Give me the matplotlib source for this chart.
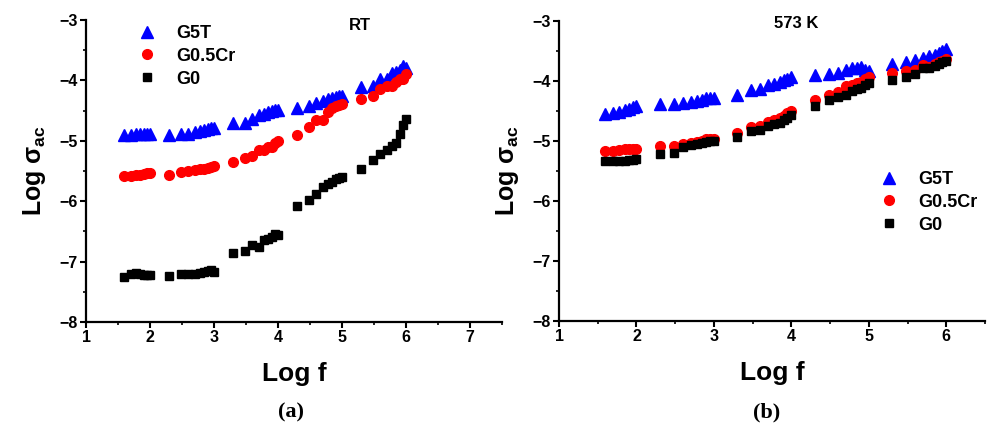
import matplotlib
matplotlib.use("Agg")
import matplotlib.pyplot as plt
from matplotlib.ticker import MultipleLocator

plt.rcParams['font.family'] = ['Liberation Sans', 'DejaVu Sans']
plt.rcParams['font.weight'] = 'bold'
plt.rcParams['mathtext.fontset'] = 'custom'
plt.rcParams['mathtext.rm'] = 'Liberation Sans:bold'
plt.rcParams['mathtext.it'] = 'Liberation Sans:bold'
plt.rcParams['mathtext.bf'] = 'Liberation Sans:bold'

# Log f values (same sampling for all series)
log_f = [1.60, 1.70, 1.78, 1.85, 1.90, 1.95, 2.00,
         2.30, 2.48, 2.60, 2.70, 2.78, 2.85, 2.90, 2.95, 3.00,
         3.30, 3.48, 3.60, 3.70, 3.78, 3.85, 3.90, 3.95, 4.00,
         4.30, 4.48, 4.60, 4.70, 4.78, 4.85, 4.90, 4.95, 5.00,
         5.30, 5.48, 5.60, 5.70, 5.78, 5.85, 5.90, 5.95, 6.00]

# (a) RT
rt_g5t = [-4.90, -4.90, -4.89, -4.89, -4.89, -4.88, -4.88,
          -4.90, -4.89, -4.88, -4.86, -4.84, -4.82, -4.80, -4.79, -4.78,
          -4.71, -4.70, -4.64, -4.58, -4.55, -4.52, -4.50, -4.49, -4.49,
          -4.46, -4.42, -4.37, -4.34, -4.31, -4.29, -4.27, -4.26, -4.26,
          -4.11, -4.09, -3.98, -3.98, -3.88, -3.86, -3.83, -3.76, -3.79]
rt_g05cr = [-5.58, -5.58, -5.57, -5.56, -5.55, -5.54, -5.54,
            -5.57, -5.51, -5.50, -5.49, -5.47, -5.46, -5.45, -5.43, -5.41,
            -5.35, -5.28, -5.25, -5.15, -5.16, -5.10, -5.11, -5.04, -5.00,
            -4.91, -4.77, -4.66, -4.65, -4.53, -4.45, -4.42, -4.41, -4.39,
            -4.31, -4.25, -4.15, -4.10, -4.09, -4.02, -3.98, -3.97, -3.89]
rt_g0 = [-7.25, -7.21, -7.19, -7.20, -7.22, -7.23, -7.23,
         -7.24, -7.21, -7.21, -7.21, -7.19, -7.18, -7.16, -7.14, -7.17,
         -6.85, -6.82, -6.73, -6.75, -6.65, -6.63, -6.59, -6.54, -6.56,
         -6.08, -5.98, -5.88, -5.77, -5.72, -5.68, -5.64, -5.62, -5.60,
         -5.46, -5.31, -5.22, -5.16, -5.08, -5.04, -4.89, -4.74, -4.64]

# (b) 573 K
hk_g5t = [-4.55, -4.53, -4.51, -4.48, -4.46, -4.44, -4.42,
          -4.39, -4.39, -4.36, -4.35, -4.33, -4.31, -4.29, -4.29, -4.29,
          -4.24, -4.15, -4.14, -4.07, -4.05, -4.01, -3.98, -3.96, -3.94,
          -3.90, -3.88, -3.86, -3.81, -3.79, -3.79, -3.77, -3.81, -3.83,
          -3.72, -3.69, -3.65, -3.61, -3.58, -3.56, -3.53, -3.50, -3.47]
hk_g05cr = [-5.16, -5.16, -5.15, -5.14, -5.14, -5.13, -5.14,
            -5.09, -5.08, -5.05, -5.03, -5.01, -5.00, -4.97, -4.96, -4.97,
            -4.86, -4.77, -4.75, -4.68, -4.65, -4.62, -4.58, -4.54, -4.50,
            -4.31, -4.24, -4.18, -4.09, -4.06, -4.04, -4.01, -3.97, -3.94,
            -3.86, -3.83, -3.81, -3.74, -3.76, -3.72, -3.69, -3.66, -3.63]
hk_g0 = [-5.34, -5.34, -5.33, -5.33, -5.31, -5.31, -5.30,
         -5.21, -5.20, -5.10, -5.07, -5.05, -5.03, -5.01, -5.00, -5.00,
         -4.93, -4.83, -4.82, -4.75, -4.72, -4.70, -4.65, -4.61, -4.57,
         -4.42, -4.32, -4.27, -4.23, -4.17, -4.14, -4.11, -4.07, -4.03,
         -3.98, -3.93, -3.88, -3.79, -3.78, -3.75, -3.72, -3.69, -3.67]

series_labels = ['G5T', 'G0.5Cr', 'G0']
W, H = 988, 429
fig = plt.figure(figsize=(W / 100, H / 100), dpi=100)

def px_rect(l, r, t, b):
    return [l / W, 1 - b / H, (r - l) / W, (b - t) / H]

ax1 = fig.add_axes(px_rect(86, 502, 20, 322))
ax2 = fig.add_axes(px_rect(559, 985, 21, 321))

def style(ax, xmax, xticks):
    ax.set_xlim(1, xmax)
    ax.set_ylim(-8, -3)
    ax.set_xticks(xticks)
    ax.set_yticks([-8, -7, -6, -5, -4, -3])
    ax.xaxis.set_minor_locator(MultipleLocator(0.5))
    ax.yaxis.set_minor_locator(MultipleLocator(0.5))
    for s in ['top', 'right']:
        ax.spines[s].set_visible(False)
    for s in ['left', 'bottom']:
        ax.spines[s].set_linewidth(1.6)
    ax.tick_params(which='major', direction='out', length=4, width=1.5,
                   labelsize=11.5, pad=2)
    ax.tick_params(which='minor', direction='out', length=2.5, width=1.2)
    for lab in ax.get_xticklabels() + ax.get_yticklabels():
        lab.set_fontweight('bold')
    ax.set_xlabel('Log f', fontsize=19, fontweight='bold', labelpad=12)
    ax.set_ylabel(r'Log $\sigma_{ac}$', fontsize=18, fontweight='bold', labelpad=8)

def plot_series(ax, g5t, g05cr, g0):
    h1, = ax.plot(log_f, g5t, ls='none', marker='^', ms=8, color='#0000ff',
                  mec='#0000ff', label=series_labels[0])
    h2, = ax.plot(log_f, g05cr, ls='none', marker='o', ms=7, color='#ff0000',
                  mec='#ff0000', label=series_labels[1])
    h3, = ax.plot(log_f, g0, ls='none', marker='s', ms=6, color='black',
                  mec='black', label=series_labels[2])
    return [h1, h2, h3]

hs1 = plot_series(ax1, rt_g5t, rt_g05cr, rt_g0)
hs2 = plot_series(ax2, hk_g5t, hk_g05cr, hk_g0)
style(ax1, 7.5, [1, 2, 3, 4, 5, 6, 7])
style(ax2, 6.5, [1, 2, 3, 4, 5, 6])

leg_kw = dict(frameon=False, loc='upper left', borderpad=0, borderaxespad=0,
              handlelength=1.0, handletextpad=1.1, labelspacing=0.32,
              prop={'size': 13, 'weight': 'bold'})
fig.legend(handles=hs1, bbox_to_anchor=(138 / W, 1 - 25 / H), **leg_kw)
fig.legend(handles=hs2, bbox_to_anchor=(880 / W, 1 - 171 / H), **leg_kw)

fig.text(360 / W, 1 - 26 / H, 'RT', ha='center', va='center', fontsize=12, fontweight='bold')
fig.text(796 / W, 1 - 23 / H, '573 K', ha='center', va='center', fontsize=12, fontweight='bold')

fig.text(291 / W, 1 - 412 / H, '(a)', ha='center', va='center', fontsize=16,
         fontweight='bold', family='Liberation Serif')
fig.text(767 / W, 1 - 412 / H, '(b)', ha='center', va='center', fontsize=16,
         fontweight='bold', family='Liberation Serif')

fig.savefig('out.png', dpi=100)
